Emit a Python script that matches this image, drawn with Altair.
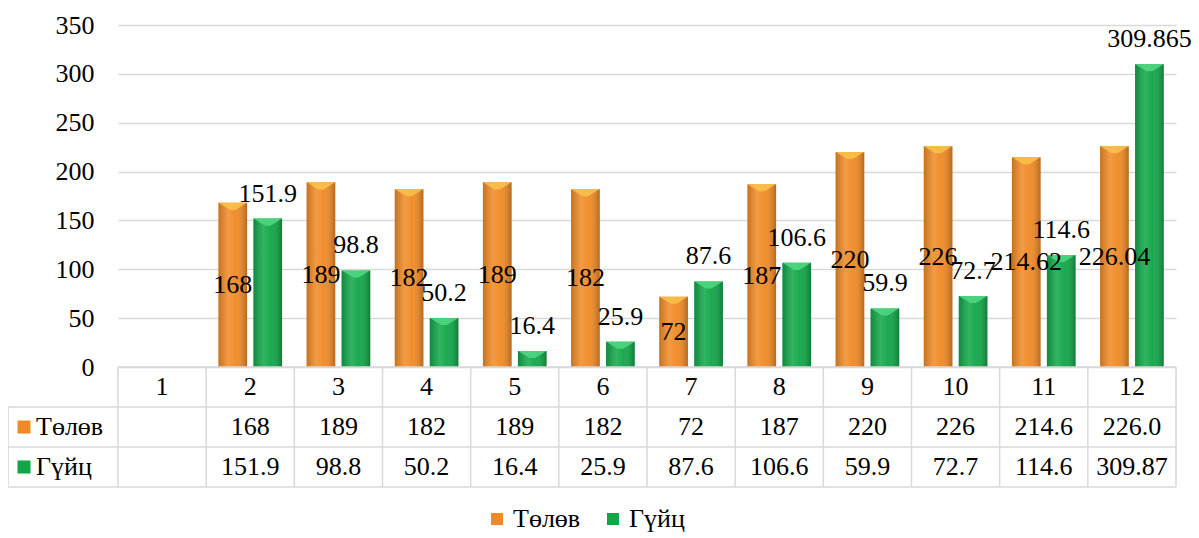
import altair as alt
import pandas as pd

# ---------------- data ----------------
cats = list(range(1, 13))
series_names = ["Төлөв", "Гүйц"]
tolov = [None, 168, 189, 182, 189, 182, 72, 187, 220, 226, 214.62, 226.04]
guits = [None, 151.9, 98.8, 50.2, 16.4, 25.9, 87.6, 106.6, 59.9, 72.7, 114.6, 309.865]
tolov_bar_labels = ["", "168", "189", "182", "189", "182", "72", "187", "220", "226", "214.62", "226.04"]
guits_bar_labels = ["", "151.9", "98.8", "50.2", "16.4", "25.9", "87.6", "106.6", "59.9", "72.7", "114.6", "309.865"]
tolov_table = ["", "168", "189", "182", "189", "182", "72", "187", "220", "226", "214.6", "226.0"]
guits_table = ["", "151.9", "98.8", "50.2", "16.4", "25.9", "87.6", "106.6", "59.9", "72.7", "114.6", "309.87"]
y_ticks = [0, 50, 100, 150, 200, 250, 300, 350]

# ---------------- tables for the library ----------------
rows = []
for s, vals, labs in [(series_names[0], tolov, tolov_bar_labels), (series_names[1], guits, guits_bar_labels)]:
    for c, v, l in zip(cats, vals, labs):
        if v is not None:
            rows.append({"cat": c, "series": s, "value": v, "label": l})
bars_df = pd.DataFrame(rows)

trows = []
for c in cats:
    trows.append({"cat": c, "ty": 0.5, "text": str(c)})
for c, t in zip(cats, tolov_table):
    trows.append({"cat": c, "ty": 1.5, "text": t})
for c, t in zip(cats, guits_table):
    trows.append({"cat": c, "ty": 2.5, "text": t})
table_df = pd.DataFrame(trows)

row_lbl_df = pd.DataFrame({"series": series_names, "ty": [1.5, 2.5]})
vline_df = pd.DataFrame({"cat": cats, "y0": [0] * 12, "y1": [3] * 12})
hline_top_df = pd.DataFrame({"y": [0]})
hline_df = pd.DataFrame({"y": [1, 2, 3]})
left_df = pd.DataFrame({"y0": [1], "y1": [3]})

# ---------------- style ----------------
FONT = "'Liberation Serif', 'Times New Roman', 'DejaVu Serif', serif"
FS = 26
W, H = 1058, 462
PLOT_H = 342
GRID = "#D9D9D9"
ORANGE = "#F08A26"
GREEN = "#12A649"

X = alt.X("cat:O", scale=alt.Scale(domain=cats, paddingInner=0, paddingOuter=0), axis=None)
XO = alt.XOffset("series:N", scale=alt.Scale(domain=series_names, paddingInner=0.18, paddingOuter=0.35))
yscale = alt.Scale(domain=[0, 350], range=[PLOT_H, 0], nice=False, zero=False)
tscale = alt.Scale(domain=[0, 3], range=[PLOT_H, H], nice=False, zero=False)

color = alt.Color(
    "series:N",
    scale=alt.Scale(domain=series_names, range=[ORANGE, GREEN]),
    legend=alt.Legend(
        orient="none", legendX=366, legendY=481, direction="horizontal", title=None,
        symbolType="square", symbolSize=144, symbolStrokeWidth=0,
        labelFont=FONT, labelFontSize=FS, labelColor="black",
        columnPadding=19, labelOffset=3,
    ),
)

base = alt.Chart(bars_df)

bars = base.mark_bar().encode(
    x=X, xOffset=XO,
    y=alt.Y("value:Q", scale=yscale, axis=alt.Axis(
        values=y_ticks, domain=False, ticks=False, labelPadding=24,
        labelFont=FONT, labelFontSize=FS, labelColor="black",
        gridColor=GRID, gridWidth=1.5, title=None)),
    color=color,
)

shade = base.mark_bar(
    fill=alt.Gradient(
        gradient="linear", x1=0, x2=1, y1=0, y2=0,
        stops=[
            alt.GradientStop(offset=0, color="rgba(0,0,0,0.18)"),
            alt.GradientStop(offset=0.35, color="rgba(255,255,255,0.14)"),
            alt.GradientStop(offset=0.6, color="rgba(255,255,255,0.04)"),
            alt.GradientStop(offset=1, color="rgba(0,0,0,0.25)"),
        ],
    )
).encode(x=X, xOffset=XO, y=alt.Y("value:Q", scale=yscale, axis=None))

bevel = base.mark_point(
    shape="M-1,0L1,0L0.2,0.5L-0.2,0.5Z", filled=True, size=800, opacity=0.9, strokeWidth=0
).encode(
    x=X, xOffset=XO, y=alt.Y("value:Q", scale=yscale, axis=None),
    fill=alt.condition(alt.datum.series == series_names[0], alt.value("#F8C04A"), alt.value("#4FD680")),
)

orange_lbl = base.transform_filter(alt.datum.series == series_names[0]).transform_calculate(
    mid="datum.value / 2"
).mark_text(font=FONT, fontSize=FS, color="black", baseline="middle").encode(
    x=X, xOffset=XO, y=alt.Y("mid:Q", scale=yscale, axis=None), text="label:N"
)

green_lbl = base.transform_filter(alt.datum.series == series_names[1]).mark_text(
    font=FONT, fontSize=FS, color="black", baseline="alphabetic", dy=-17
).encode(x=X, xOffset=XO, y=alt.Y("value:Q", scale=yscale, axis=None), text="label:N")

# ---------------- data table ----------------
vrules = alt.Chart(vline_df).mark_rule(color=GRID, strokeWidth=1.5).encode(
    x=alt.X("cat:O", bandPosition=0, scale=alt.Scale(domain=cats, paddingInner=0, paddingOuter=0), axis=None),
    y=alt.Y("y0:Q", scale=tscale, axis=None), y2="y1:Q",
)
vrule_end = alt.Chart(vline_df).transform_filter(alt.datum.cat == 12).mark_rule(color=GRID, strokeWidth=1.5).encode(
    x=alt.X("cat:O", bandPosition=1, scale=alt.Scale(domain=cats, paddingInner=0, paddingOuter=0), axis=None),
    y=alt.Y("y0:Q", scale=tscale, axis=None), y2="y1:Q",
)
vrule_left = alt.Chart(left_df).mark_rule(color=GRID, strokeWidth=1.5).encode(
    x=alt.value(-110), y=alt.Y("y0:Q", scale=tscale, axis=None), y2="y1:Q",
)
hrule_top = alt.Chart(hline_top_df).mark_rule(color=GRID, strokeWidth=1.5).encode(
    x=alt.value(0), x2=alt.value(W), y=alt.Y("y:Q", scale=tscale, axis=None),
)
hrules = alt.Chart(hline_df).mark_rule(color=GRID, strokeWidth=1.5).encode(
    x=alt.value(-110), x2=alt.value(W), y=alt.Y("y:Q", scale=tscale, axis=None),
)
table_text = alt.Chart(table_df).mark_text(font=FONT, fontSize=FS, color="black", baseline="middle").encode(
    x=X, y=alt.Y("ty:Q", scale=tscale, axis=None), text="text:N"
)
row_markers = alt.Chart(row_lbl_df).mark_square(size=170, opacity=1, strokeWidth=0).encode(
    x=alt.value(-94), y=alt.Y("ty:Q", scale=tscale, axis=None), color=color
)
row_text = alt.Chart(row_lbl_df).mark_text(font=FONT, fontSize=FS, color="black", baseline="middle", align="left").encode(
    x=alt.value(-82), y=alt.Y("ty:Q", scale=tscale, axis=None), text="series:N"
)

chart = alt.layer(
    bars, shade, bevel, orange_lbl, green_lbl,
    vrules, vrule_end, vrule_left, hrule_top, hrules, table_text, row_markers, row_text,
).resolve_scale(y="independent").properties(
    width=W, height=H,
    padding={"left": 110, "top": 17, "right": 15, "bottom": 51},
    autosize=alt.AutoSizeParams(type="none"),
    background="white",
).configure_view(stroke=None)

chart.save("out.html", embed_options={"renderer": "svg", "actions": False})
